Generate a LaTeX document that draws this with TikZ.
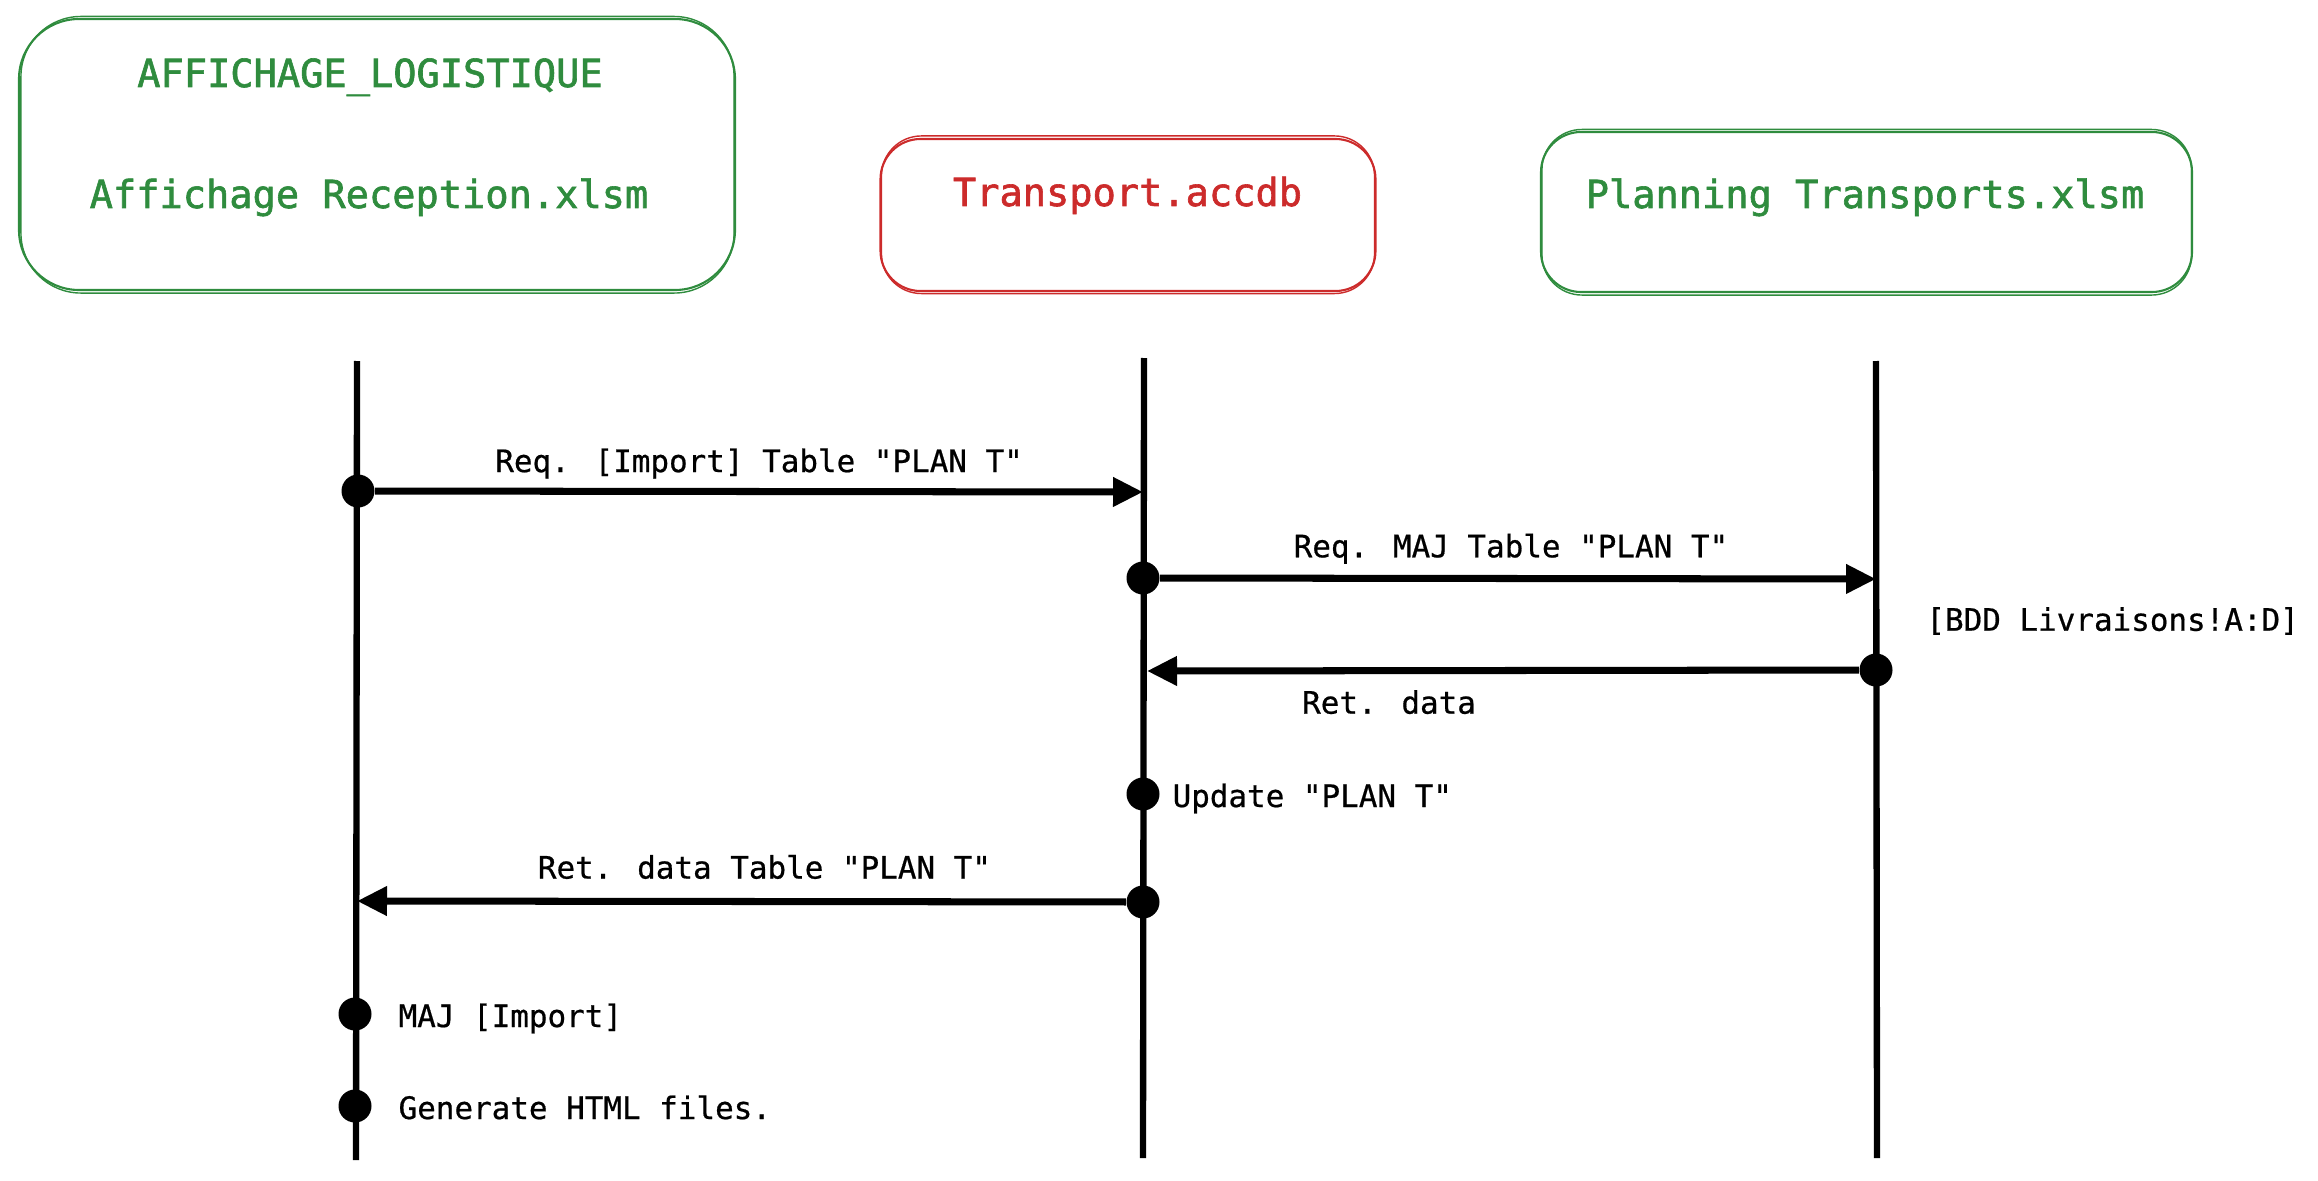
\documentclass[tikz,border=0pt]{standalone}
\usepackage{fontspec}
\setmonofont{DejaVu Sans Mono}
\newfontfamily\monotitre[FakeBold=1.6]{DejaVu Sans Mono}
\newfontfamily\monotexte[FakeBold=0.6]{DejaVu Sans Mono}
\usepackage{tikz}
\usetikzlibrary{arrows.meta,positioning}
\definecolor{vertxl}{HTML}{2F8C3E}
\definecolor{rougedb}{HTML}{CC2B2B}

\begin{document}
\begin{tikzpicture}[
    boite/.style={draw,line width=0.6pt,inner sep=0pt},
    fichier/.style={font=\monotitre\fontsize{11}{13}\selectfont,anchor=base},
    vie/.style={line width=1.8pt},
    msg/.style={line width=2pt,-{Triangle[length=0.3cm,width=0.28cm]}},
    pt/.style={circle,fill,inner sep=0pt,minimum size=0.33cm},
    etiq/.style={font=\monotexte\fontsize{8.8}{10}\selectfont,text height=6.6pt,text depth=2.2pt},
    cote/.style={etiq,right,yshift=-1.5pt}
  ]
  \useasboundingbox (0,0) rectangle (23.18,-11.81);
  % boites des fichiers
  \node[boite,vertxl,rounded corners=0.6cm,minimum width=7.16cm,minimum height=2.71cm] (aff) at (3.77,-1.545) {};
  \draw[vertxl,line width=0.4pt,rounded corners=0.6cm] ([shift={(0.03,-0.02)}]aff.south west) rectangle ([shift={(-0.02,0.015)}]aff.north east);
  \node[boite,rougedb,rounded corners=0.4cm,minimum width=4.95cm,minimum height=1.52cm] (trans) at (11.28,-2.15) {};
  \draw[rougedb,line width=0.4pt,rounded corners=0.4cm] ([shift={(0.02,-0.015)}]trans.south west) rectangle ([shift={(-0.02,0.02)}]trans.north east);
  \node[boite,vertxl,rounded corners=0.4cm,minimum width=6.51cm,minimum height=1.60cm] (plan) at (18.665,-2.12) {};
  \draw[vertxl,line width=0.4pt,rounded corners=0.4cm] ([shift={(0.02,-0.02)}]plan.south west) rectangle ([shift={(-0.015,0.015)}]plan.north east);
  \node[fichier,vertxl] (affTitre) at (3.70,-0.87) {AFFICHAGE\_LOGISTIQUE};
  \node[fichier,vertxl] (affFich) at (3.69,-2.08) {Affichage Reception.xlsm};
  \node[fichier,rougedb] (transFich) at (11.275,-2.06) {Transport.accdb};
  \node[fichier,vertxl] (planFich) at (18.65,-2.08) {Planning Transports.xlsm};
  % lignes de vie
  \coordinate (v1h) at (3.57,-3.61);
  \coordinate (v1b) at (3.56,-11.60);
  \coordinate (v2h) at (11.44,-3.58);
  \coordinate (v2b) at (11.43,-11.58);
  \coordinate (v3h) at (18.76,-3.61);
  \coordinate (v3b) at (18.77,-11.58);
  \draw[vie] (v1h) -- (v1b);
  \draw[vie] (v2h) -- (v2b);
  \draw[vie] (v3h) -- (v3b);
  % requete import
  \node[pt] (d1) at (3.58,-4.91) {};
  \coordinate (a1) at (11.43,-4.92);
  \draw[msg] (d1) -- (a1) node[etiq,midway,above=-1pt] {Req. [Import] Table "PLAN T"};
  % requete maj
  \node[pt] (d2) at (11.43,-5.78) {};
  \coordinate (a2) at (18.76,-5.79);
  \draw[msg] (d2) -- (a2) node[etiq,pos=0.49,above=-0.5pt] {Req. MAJ Table "PLAN T"};
  \node[etiq,anchor=west] (bdd) at (19.14,-6.23) {[BDD Livraisons!A:D]};
  % retour donnees
  \node[pt] (d3) at (18.76,-6.70) {};
  \coordinate (a3) at (11.47,-6.71);
  \draw[msg] (d3) -- (a3) node[etiq,pos=0.66,below=1.3pt] {Ret. data};
  \node[pt] (d4) at (11.43,-7.94) {};
  \node[cote,right=0cm of d4] (upd) {Update "PLAN T"};
  % retour table
  \node[pt] (d5) at (11.43,-9.02) {};
  \coordinate (a5) at (3.57,-9.01);
  \draw[msg] (d5) -- (a5) node[etiq,pos=0.47,above] {Ret. data Table "PLAN T"};
  % traitements cote affichage
  \node[pt] (d6) at (3.55,-10.14) {};
  \node[cote,right=0.14cm of d6] (majImp) {MAJ [Import]};
  \node[pt] (d7) at (3.55,-11.06) {};
  \node[cote,right=0.14cm of d7] (gen) {Generate HTML files.};
\end{tikzpicture}
\end{document}
